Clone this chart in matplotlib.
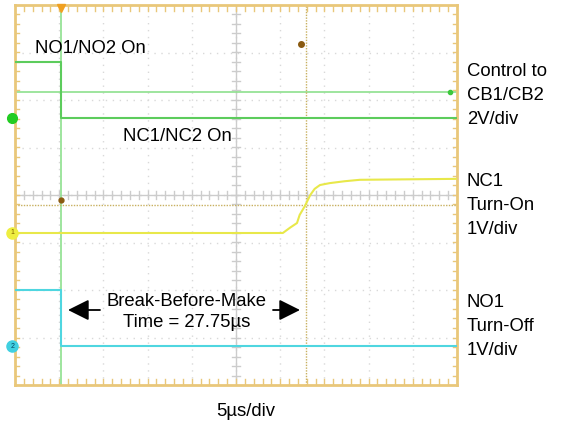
import numpy as np
import matplotlib
matplotlib.use('Agg')
from matplotlib import pyplot as plt
from matplotlib.patches import FancyArrowPatch

plt.rcParams['font.family'] = ['Liberation Sans', 'DejaVu Sans']

### data (x in us, y in divisions) ###
# control to CB1/CB2 (green)
ctrl_t = [0, 5.2, 5.2, 50]
ctrl_v = [2.8, 2.8, 1.62, 1.62]
# NC1 turn-on (yellow)
nc1_t = [0, 30.3, 31.1, 31.9, 32.2, 32.8, 33.4, 33.9, 34.5, 35.6, 37.3, 39.0, 50]
nc1_v = [-0.8, -0.8, -0.69, -0.59, -0.42, -0.23, 0.0, 0.13, 0.21, 0.25, 0.29, 0.32, 0.34]
# NO1 turn-off (cyan)
no1_t = [0, 5.2, 5.2, 50]
no1_v = [-2.0, -2.0, -3.18, -3.18]

trig_t = 5.2
cursor_t = 5.2 + 27.75
trig_level = 2.17
cursor_level = -0.21

right_labels = [['Control to', 'CB1/CB2', '2V/div'],
                ['NC1', 'Turn-On', '1V/div'],
                ['NO1', 'Turn-Off', '1V/div']]
right_base = [76, 186, 307]

W, H = 568, 425
fig = plt.figure(figsize=(W / 100, H / 100), dpi=100)
fig.patch.set_facecolor('white')


def px(x, y):
    return x / W, 1 - y / H


ax = fig.add_axes([15 / W, 40 / H, 442 / W, 380 / H])
ax.set_xlim(0, 50)
ax.set_ylim(-4, 4)
ax.set_xticks([])
ax.set_yticks([])
frame_c = '#e9c77a'
for s in ax.spines.values():
    s.set_color(frame_c)
    s.set_linewidth(2)

# grid
grid_c = '#d9d9d9'
for gx in np.arange(5, 50, 5):
    ax.axvline(gx, color=grid_c, lw=1, ls=(0, (1, 4)), zorder=1)
for gy in np.arange(-3, 4, 1):
    ax.axhline(gy, color=grid_c, lw=1, ls=(0, (1, 4)), zorder=1)
ax.axvline(25, color='#cccccc', lw=1, zorder=1)
ax.axhline(0, color='#cccccc', lw=1, zorder=1)
# ticks on center lines and frame
for tx in np.arange(1, 50, 1):
    ax.plot([tx, tx], [-0.08, 0.08], color='#cccccc', lw=1, zorder=1)
    ax.plot([tx, tx], [3.88, 4], color=frame_c, lw=1, zorder=1)
    ax.plot([tx, tx], [-4, -3.88], color=frame_c, lw=1, zorder=1)
for ty in np.arange(-3.8, 4, 0.2):
    ax.plot([24.6, 25.4], [ty, ty], color='#cccccc', lw=1, zorder=1)
    ax.plot([0, 0.5], [ty, ty], color=frame_c, lw=1, zorder=1)
    ax.plot([49.5, 50], [ty, ty], color=frame_c, lw=1, zorder=1)

# cursors / trigger lines
ax.axvline(trig_t, color='#8ee08e', lw=1.2, zorder=2)
ax.axhline(trig_level, color='#8ee08e', lw=1.2, zorder=2)
ax.axvline(cursor_t, color='#c8b060', lw=1, ls=(0, (1, 1)), zorder=2)
ax.axhline(cursor_level, color='#c8b060', lw=1, ls=(0, (1, 1)), zorder=2)

# traces
ax.plot(ctrl_t, ctrl_v, color='#5ccc5c', lw=1.5, zorder=3)
ax.plot(nc1_t, nc1_v, color='#e8e84a', lw=1.5, zorder=3)
ax.plot(no1_t, no1_v, color='#4fd6e0', lw=1.5, zorder=3)

# markers
ax.plot([49.2], [trig_level], 'o', color='#3cc83c', ms=3, zorder=4)
ax.plot([trig_t], [-0.1], 'o', color='#8a5a10', ms=3.5, zorder=4)
ax.plot([32.35], [3.18], 'o', color='#8a5a10', ms=4, zorder=4)
ax.plot([trig_t], [3.93], 'v', color='#f0a020', ms=6, clip_on=False, zorder=4)
ax.plot([-0.3], [ctrl_v[-1]], 'o', color='#22cc22', ms=7, clip_on=False, zorder=5)
ax.plot([-0.3], [nc1_v[0]], 'o', color='#eeee40', ms=8, clip_on=False, zorder=5)
ax.text(-0.3, nc1_v[0], '1', fontsize=5, ha='center', va='center', color='#806000', zorder=6)
ax.plot([-0.3], [no1_v[-1]], 'o', color='#40d0e0', ms=8, clip_on=False, zorder=5)
ax.text(-0.3, no1_v[-1], '2', fontsize=5, ha='center', va='center', color='#004060', zorder=6)

fs = 13.3
fig.text(*px(35, 53), 'NO1/NO2 On', fontsize=fs, va='baseline', ha='left')
fig.text(*px(123, 141), 'NC1/NC2 On', fontsize=fs, va='baseline', ha='left')
fig.text(*px(187, 306), 'Break-Before-Make', fontsize=fs, va='baseline', ha='center')
fig.text(*px(187, 327), 'Time = 27.75µs', fontsize=fs, va='baseline', ha='center')
fig.text(*px(246, 416), '5µs/div', fontsize=fs, va='baseline', ha='center')

for lines, b in zip(right_labels, right_base):
    for i, ln in enumerate(lines):
        fig.text(*px(467, b + 24 * i), ln, fontsize=fs, va='baseline', ha='left')

# break-before-make arrows
arr = dict(arrowstyle='-|>,head_length=0.8,head_width=0.4', color='black', lw=1.3,
           mutation_scale=16, shrinkA=0, shrinkB=0, transform=fig.transFigure)
fig.add_artist(FancyArrowPatch(px(100, 310), px(68, 310), **arr))
fig.add_artist(FancyArrowPatch(px(273, 310), px(300, 310), **arr))

plt.savefig('out.png', dpi=100)
